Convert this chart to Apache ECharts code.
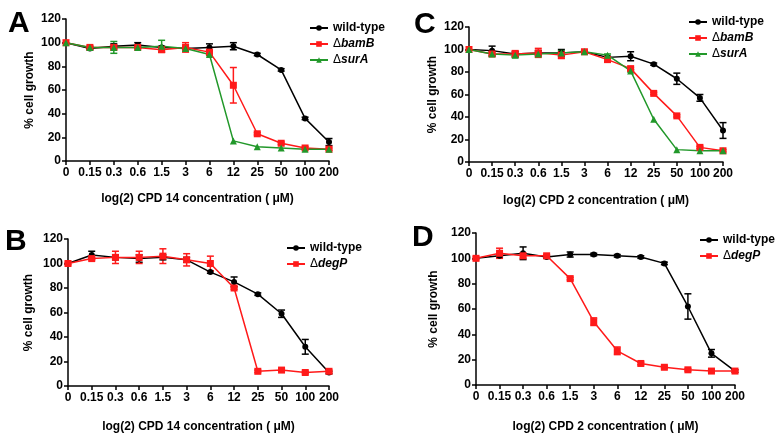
<!DOCTYPE html>
<html>
<head>
<meta charset="utf-8">
<title>cell growth panels</title>
<script src="https://cdn.jsdelivr.net/npm/echarts@6/dist/echarts.min.js"></script>
<style>
  html, body { margin: 0; padding: 0; background: #fff; }
  #main { width: 779px; height: 438px; }
</style>
</head>
<body>
<div id="main"></div>
<script>
// x categories (log2 scale of concentration, uM)
var concLabels = ["0", "0.15", "0.3", "0.6", "1.5", "3", "6", "12", "25", "50", "100", "200"];
var yTicks = [0, 20, 40, 60, 80, 100, 120];

// panel A - CPD 14
var wtA = [100, 95, 97, 98, 96, 95, 96, 97, 90, 77, 36, 16];
var wtAErr = [0, 1, 2, 2, 1, 1, 3, 3, 1, 1, 1, 3];
var bamBA = [100, 96, 96, 96, 94, 96, 92, 64, 23, 15, 11, 10];
var bamBAErr = [0, 1, 2, 1, 2, 4, 1, 15, 1, 1, 1, 1];
var surAA = [100, 96, 96, 96, 97, 95, 90, 17, 12, 11, 10, 10];
var surAAErr = [0, 1, 5, 1, 5, 2, 1, 0, 0, 0, 0, 0];

// panel C - CPD 2
var wtC = [100, 99, 96, 97, 97, 98, 93, 94, 87, 74, 57, 28];
var wtCErr = [0, 4, 2, 2, 3, 1, 1, 4, 1, 5, 3, 7];
var bamBC = [100, 96, 96, 97, 95, 98, 91, 83, 61, 41, 13, 10];
var bamBCErr = [0, 2, 3, 4, 3, 1, 2, 1, 1, 1, 1, 1];
var surAC = [100, 96, 95, 96, 97, 98, 95, 81, 38, 11, 10, 10];
var surACErr = [0, 2, 2, 2, 2, 1, 1, 1, 0, 0, 0, 0];

// panel B - CPD 14
var wtB = [100, 107, 105, 104, 105, 103, 93, 85, 75, 59, 32, 11];
var wtBErr = [0, 3, 2, 3, 2, 2, 1, 4, 1, 3, 6, 1];
var degPB = [100, 104, 105, 105, 106, 103, 100, 80, 12, 13, 11, 12];
var degPBErr = [1, 1, 5, 5, 6, 5, 6, 1, 1, 1, 1, 1];

// panel D - CPD 2
var wtD = [100, 102, 104, 101, 103, 103, 102, 101, 96, 62, 25, 11];
var wtDErr = [0, 1, 5, 1, 2, 1, 1, 1, 1, 10, 3, 1];
var degPD = [100, 104, 102, 102, 84, 50, 27, 17, 14, 12, 11, 11];
var degPDErr = [1, 4, 2, 1, 1, 3, 3, 1, 1, 1, 1, 1];

var BLACK = "#000000";
var RED = "#ff1a1a";
var GREEN = "#22982a";
var FONT = "Liberation Sans, Arial, sans-serif";

var myChart = echarts.init(document.getElementById("main"), null, { renderer: "canvas" });

// grids: A, C, B, D
var grids = [
  { left: 66, top: 19, width: 263, height: 142 },
  { left: 469, top: 27, width: 254, height: 135 },
  { left: 68, top: 239, width: 261, height: 147 },
  { left: 476, top: 233, width: 259, height: 152 }
];
var xNames = [
  "log(2) CPD 14 concentration ( \u03bcM)",
  "log(2) CPD 2 concentration ( \u03bcM)",
  "log(2) CPD 14 concentration ( \u03bcM)",
  "log(2) CPD 2 concentration ( \u03bcM)"
];
var xNameGaps = [32, 33, 35, 36];
var yNameGaps = [30, 30, 33, 36];

var axisLineStyle = { color: BLACK, width: 1.5 };

var xAxes = grids.map(function(g, i) {
  return {
    type: "category",
    gridIndex: i,
    data: concLabels,
    boundaryGap: false,
    name: xNames[i],
    nameLocation: "middle",
    nameGap: xNameGaps[i],
    nameTextStyle: { fontFamily: FONT, fontWeight: "bold", fontSize: 12, color: BLACK },
    axisLine: { lineStyle: axisLineStyle },
    axisTick: { show: true, alignWithLabel: true, length: 4, lineStyle: axisLineStyle },
    axisLabel: { interval: 0, fontFamily: FONT, fontWeight: "bold", fontSize: 12, color: BLACK, margin: 6 },
    splitLine: { show: false }
  };
});

var yAxes = grids.map(function(g, i) {
  return {
    type: "value",
    gridIndex: i,
    min: yTicks[0],
    max: yTicks[yTicks.length - 1],
    interval: 20,
    name: "% cell growth",
    nameLocation: "middle",
    nameGap: yNameGaps[i],
    nameTextStyle: { fontFamily: FONT, fontWeight: "bold", fontSize: 12, color: BLACK },
    axisLine: { show: true, lineStyle: axisLineStyle },
    axisTick: { show: true, length: 4, lineStyle: axisLineStyle },
    axisLabel: { fontFamily: FONT, fontWeight: "bold", fontSize: 12, color: BLACK, margin: 5 },
    splitLine: { show: false }
  };
});

var symbols = { "wild-type": "circle", "\u0394bamB": "rect", "\u0394surA": "triangle", "\u0394degP": "rect" };
var colors = { "wild-type": BLACK, "\u0394bamB": RED, "\u0394surA": GREEN, "\u0394degP": RED };
var sizes = { "wild-type": 6, "\u0394bamB": 7, "\u0394surA": 7, "\u0394degP": 7 };

function lineSeries(name, data, idx) {
  return {
    name: name,
    type: "line",
    xAxisIndex: idx,
    yAxisIndex: idx,
    data: data,
    symbol: symbols[name],
    symbolSize: sizes[name],
    showAllSymbol: true,
    color: colors[name],
    lineStyle: { width: 1.5, color: colors[name] },
    itemStyle: { color: colors[name] },
    animation: false,
    z: 3
  };
}

// error bars drawn as custom series from mean +/- err
function errSeries(name, data, err, idx) {
  return {
    name: name + " err",
    type: "custom",
    xAxisIndex: idx,
    yAxisIndex: idx,
    data: data.map(function(v, k) { return [k, v, err[k]]; }),
    renderItem: function(params, api) {
      var x = api.value(0), v = api.value(1), e = api.value(2);
      if (!e) return null;
      var hi = api.coord([x, v + e]);
      var lo = api.coord([x, v - e]);
      var cap = 3.5;
      var st = { stroke: colors[name], lineWidth: 1.5 };
      return {
        type: "group",
        children: [
          { type: "line", shape: { x1: hi[0], y1: hi[1], x2: lo[0], y2: lo[1] }, style: st },
          { type: "line", shape: { x1: hi[0] - cap, y1: hi[1], x2: hi[0] + cap, y2: hi[1] }, style: st },
          { type: "line", shape: { x1: lo[0] - cap, y1: lo[1], x2: lo[0] + cap, y2: lo[1] }, style: st }
        ]
      };
    },
    animation: false,
    z: 2
  };
}

var series = [
  lineSeries("wild-type", wtA, 0), lineSeries("\u0394bamB", bamBA, 0), lineSeries("\u0394surA", surAA, 0),
  lineSeries("wild-type", wtC, 1), lineSeries("\u0394bamB", bamBC, 1), lineSeries("\u0394surA", surAC, 1),
  lineSeries("wild-type", wtB, 2), lineSeries("\u0394degP", degPB, 2),
  lineSeries("wild-type", wtD, 3), lineSeries("\u0394degP", degPD, 3),
  errSeries("wild-type", wtA, wtAErr, 0), errSeries("\u0394bamB", bamBA, bamBAErr, 0), errSeries("\u0394surA", surAA, surAAErr, 0),
  errSeries("wild-type", wtC, wtCErr, 1), errSeries("\u0394bamB", bamBC, bamBCErr, 1), errSeries("\u0394surA", surAC, surACErr, 1),
  errSeries("wild-type", wtB, wtBErr, 2), errSeries("\u0394degP", degPB, degPBErr, 2),
  errSeries("wild-type", wtD, wtDErr, 3), errSeries("\u0394degP", degPD, degPDErr, 3)
];

function legendFmt(name) {
  if (name === "wild-type") return "{w|wild-type}";
  return "{d|\u0394}{g|" + name.slice(1) + "}";
}
var legendRich = {
  w: { fontFamily: FONT, fontWeight: "bold", fontSize: 12, color: BLACK },
  d: { fontFamily: FONT, fontWeight: "normal", fontSize: 12, color: BLACK },
  g: { fontFamily: FONT, fontWeight: "bold", fontStyle: "italic", fontSize: 12, color: BLACK }
};
function makeLegend(names, left, top) {
  return {
    data: names,
    left: left,
    top: top,
    orient: "vertical",
    itemWidth: 18,
    itemHeight: 7,
    itemGap: 4,
    padding: 0,
    selectedMode: false,
    formatter: legendFmt,
    textStyle: { rich: legendRich }
  };
}

var letterStyle = { fontFamily: FONT, fontWeight: "bold", fontSize: 30, fill: BLACK };
function letter(txt, x, y) {
  return { type: "text", left: x, top: y, style: Object.assign({ text: txt }, letterStyle) };
}

myChart.setOption({
  backgroundColor: "#ffffff",
  animation: false,
  grid: grids,
  xAxis: xAxes,
  yAxis: yAxes,
  legend: [
    makeLegend(["wild-type", "\u0394bamB", "\u0394surA"], 309, 22),
    makeLegend(["wild-type", "\u0394bamB", "\u0394surA"], 688, 16),
    makeLegend(["wild-type", "\u0394degP"], 286, 242),
    makeLegend(["wild-type", "\u0394degP"], 699, 234)
  ],
  graphic: [
    letter("A", 8, 9),
    letter("C", 414, 10),
    letter("B", 5, 227),
    letter("D", 412, 223)
  ],
  series: series
});

window.onresize = function() {
  myChart.resize();
};
</script>
</body>
</html>
